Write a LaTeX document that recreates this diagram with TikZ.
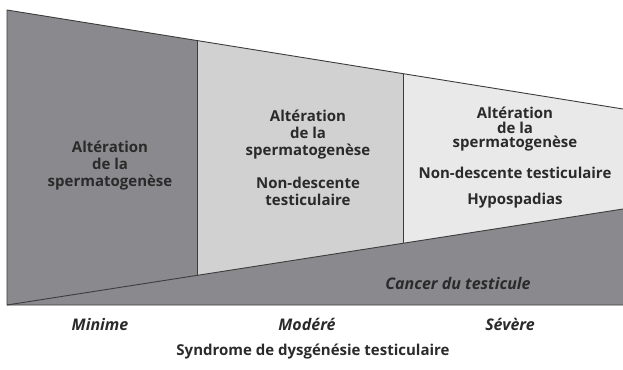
\documentclass[tikz,border=0pt]{standalone}
\usepackage{fontspec}
\setmainfont{Open Sans}
\definecolor{stagedark}{HTML}{8A8A8E}
\definecolor{stagemid}{HTML}{D1D1D2}
\definecolor{stagelight}{HTML}{E9E9EA}
\definecolor{edgegray}{HTML}{3C3C3C}
\definecolor{inkgray}{HTML}{2A2A2A}
\begin{document}
\begin{tikzpicture}[x=1pt,y=-1pt,
  zone/.style={draw=edgegray,line width=0.9pt,line join=round},
  sign/.style={font=\bfseries\fontsize{15}{17}\selectfont,align=center,text=inkgray,inner sep=0pt},
  grade/.style={font=\bfseries\itshape\fontsize{16}{17}\selectfont,text=inkgray,inner sep=0pt}]
\useasboundingbox (0,0) rectangle (623,369);
\coordinate (tl) at (7,10);
\coordinate (t1) at (197,40.5);
\coordinate (t2) at (403,73.6);
\coordinate (tr) at (623,109);
\coordinate (bl) at (7,305);
\coordinate (b1) at (197,275.4);
\coordinate (b2) at (403,243.3);
\coordinate (br) at (623,209);
\coordinate (fr) at (623,305);
\fill[stagedark] (tl) -- (t1) -- (b1) -- (bl) -- cycle;
\fill[stagemid] (t1) -- (t2) -- (b2) -- (b1) -- cycle;
\fill[stagelight] (t2) -- (tr) -- (br) -- (b2) -- cycle;
\fill[stagedark] (bl) -- (br) -- (fr) -- cycle;
\draw[zone] (fr) -- (bl) -- (tl) -- (tr);
\draw[zone] (bl) -- (br);
\draw[zone] (t1) -- (b1);
\draw[zone] (t2) -- (b2);
\node[sign] (minA) at (110,165.5) {Altération\\de la\\spermatogenèse};
\node[sign] (modA) at (308,134.5) {Altération\\de la\\spermatogenèse};
\node[sign] (modB) at (308,191) {Non-descente\\testiculaire};
\node[sign,font=\bfseries\fontsize{15}{14.5}\selectfont] (sevA) at (515,129.5) {Altération\\de la\\spermatogenèse};
\node[sign] (sevB) at (515,173) {Non-descente testiculaire};
\node[sign] (sevC) at (515,201) {Hypospadias};
\node[grade] (cancer) at (458,283) {Cancer du testicule};
\node[grade] (minime) at (100,324) {Minime};
\node[grade] (modere) at (307,324) {Modéré};
\node[grade] (severe) at (510,324) {Sévère};
\node[sign] (syndrome) at (313,352) {Syndrome de dysgénésie testiculaire};
\end{tikzpicture}
\end{document}
